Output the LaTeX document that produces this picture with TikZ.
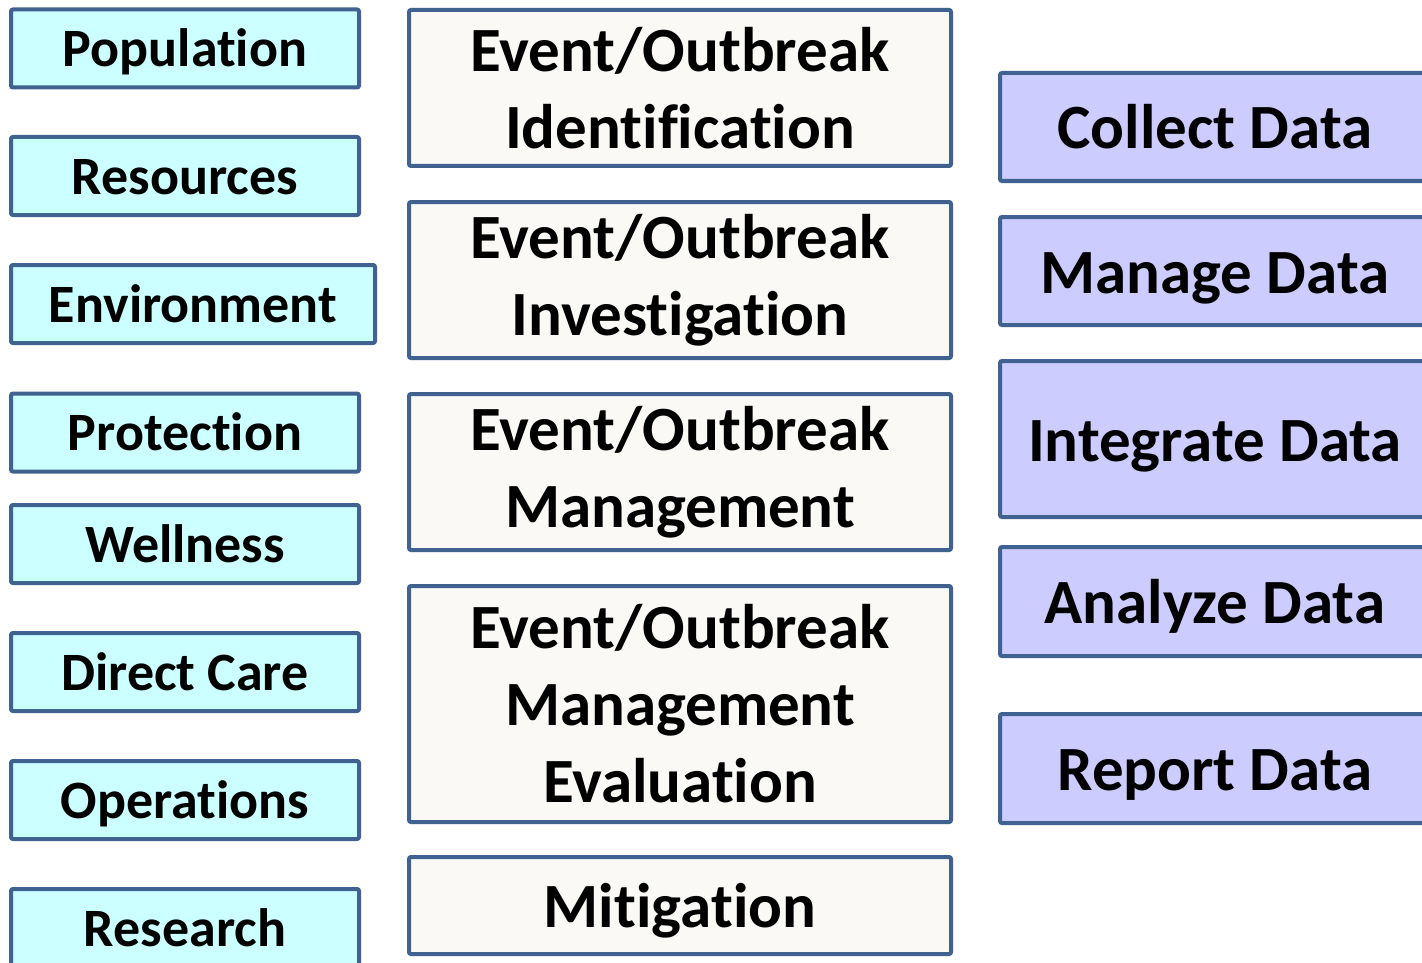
\documentclass[tikz,border=0pt]{standalone}
\usepackage{fontspec}
\setmainfont[RawFeature={-liga;-clig;-calt;-dlig}]{Carlito}
\usepackage{tikz}
\usetikzlibrary{positioning}
\definecolor{edgeblue}{HTML}{3F6290}
\definecolor{areacyan}{HTML}{CCFFFF}
\definecolor{stepwhite}{HTML}{FAF9F6}
\definecolor{datablue}{HTML}{CCCCFF}
\tikzstyle{area}=[rectangle, draw=edgeblue, line width=4pt, rounded corners=2pt, fill=areacyan, minimum width=348pt, minimum height=78pt, inner sep=0pt, text height=50pt, text depth=14pt, font=\fontsize{54}{66}\selectfont\bfseries]
\tikzstyle{phase}=[rectangle, draw=edgeblue, line width=4pt, rounded corners=2pt, fill=stepwhite, minimum width=542pt, inner sep=0pt, align=center, font=\fontsize{63}{77}\selectfont\bfseries]
\tikzstyle{task}=[rectangle, draw=edgeblue, line width=4pt, rounded corners=2pt, fill=datablue, minimum width=430pt, inner sep=0pt, text height=58pt, text depth=14pt, font=\fontsize{63}{77}\selectfont\bfseries]
\begin{document}
\begin{tikzpicture}[x=1pt, y=-1pt]
				\useasboundingbox(0,0)rectangle(1422,963);
				\clip(0,0)rectangle(1422,963);
				% left column
				\node[area](pop)at(185,48.5){Population};
				\node[area](res)at(185,176){Resources};
				\node[area, minimum width=364pt](env)at(193,304){Environment};
				\node[area](pro)at(185,432.5){Protection};
				\node[area](wel)at(185,544){Wellness};
				\node[area](dir)at(185,672){Direct Care};
				\node[area](ope)at(185,800){Operations};
				\node[area](rsc)at(185,928){Research};
				% middle column
				\node[phase, minimum height=156pt](ident)at(680,88){Event/Outbreak\\Identification};
				\node[phase, minimum height=156pt](inves)at(680,280){Event/Outbreak\\Investigation};
				\node[phase, minimum height=156pt](manag)at(680,472){Event/Outbreak\\Management};
				\node[phase, minimum height=236pt](evalu)at(680,704){Event/Outbreak\\Management\\Evaluation};
				\node[phase, minimum height=97pt, text height=58pt, text depth=14pt](mitig)at(680,905.5){Mitigation};
				% right column
				\node[task, minimum height=108pt](coll)at(1215,127){Collect Data};
				\node[task, minimum height=108pt](mana)at(1215,271){Manage Data};
				\node[task, minimum height=156pt](inte)at(1215,439){Integrate Data};
				\node[task, minimum height=109pt](anal)at(1215,601.5){Analyze Data};
				\node[task, minimum height=109pt](repo)at(1215,768.5){Report Data};
			\end{tikzpicture}
\end{document}
